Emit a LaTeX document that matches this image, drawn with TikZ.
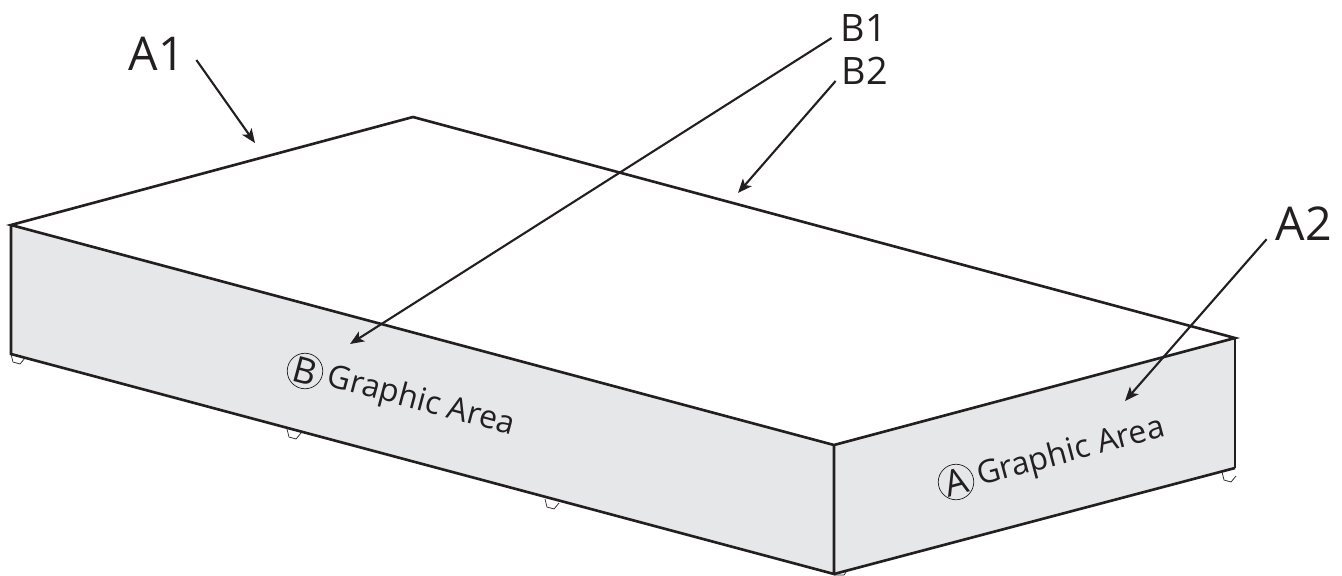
\documentclass[tikz,border=0pt]{standalone}
\usepackage{fontspec}
\setmainfont{Open Sans}
\usetikzlibrary{arrows.meta}
\definecolor{panelgray}{HTML}{E6E7E8}
\definecolor{inkblack}{HTML}{231F20}
\tikzset{
  edge/.style={inkblack, line width=1.5pt, line join=miter},
  thinedge/.style={inkblack, line width=0.7pt},
  foot/.style={inkblack, line width=0.4pt, fill=white},
  leader/.style={inkblack, line width=1.2pt, ->},
  biglabel/.style={inkblack, inner sep=0pt, font=\fontsize{26.5}{27}\selectfont},
  smalllabel/.style={inkblack, inner sep=0pt, font=\fontsize{21.5}{22}\selectfont},
  arealabel/.style={inkblack, inner sep=0pt, font=\fontsize{18.2}{19}\selectfont},
  letterring/.style={inkblack, draw, line width=0.4pt, circle, minimum size=20.2pt, inner sep=0pt},
  ringletter/.style={inkblack, inner sep=0pt, font=\fontsize{20.5}{21}\selectfont}
}
\begin{document}
\begin{tikzpicture}[x=0.02cm,y=-0.02cm,>={Stealth[length=8pt,width=6.5pt,inset=2pt]}]
    \useasboundingbox (0,0) rectangle (1342,575);
    % corners of the box
    \coordinate (TL) at (11,225); \coordinate (TB) at (413,117);
    \coordinate (TR) at (1235,338); \coordinate (TF) at (834,445);
    \coordinate (BL) at (11,354); \coordinate (BR) at (1235,468); \coordinate (BF) at (834,574);
    % little feet under the box
    \foreach \fx/\fy in {11/354,287/429,545/499,1222/472}
      \draw[foot] (\fx,\fy) -- ++(2,8) -- ++(7,2) -- ++(5,-6);
    \draw[foot] (BF) -- ++(2,1) -- ++(8,0) -- ++(2,-3);
    % faces
    \fill[panelgray] (TL) -- (TF) -- (BF) -- (BL) -- cycle;
    \fill[panelgray] (TF) -- (TR) -- (BR) -- (BF) -- cycle;
    \draw[thinedge] (TR) -- (BR);
    \draw[edge] (TF) -- (TL) -- (TB) -- (TR) -- (TF) -- (BF) -- (BL) -- (TL);
    \draw[edge] (BF) -- (BR);
    % texts on the faces
    \node[letterring] (ringB) at (305,371) {};
    \node[ringletter, rotate=-15] (letterB) at (ringB) {B};
    \node[arealabel, rotate=-15] (areaB) at (421,402) {Graphic Area};
    \node[letterring] (ringA) at (956,482) {};
    \node[ringletter, rotate=15] (letterA) at (ringA) {A};
    \node[arealabel, rotate=15] (areaA) at (1071,453) {Graphic Area};
    % labels
    \node[biglabel] (lblAone) at (157,54) {A1};
    \node[biglabel] (lblAtwo) at (1304,224) {A2};
    \node[smalllabel] (lblBone) at (864,28) {B1};
    \node[smalllabel] (lblBtwo) at (865,71) {B2};
    % arrow tips
    \coordinate (tipAone) at (255,143); \coordinate (tipAtwo) at (1125,401);
    \coordinate (tipBone) at (350,344); \coordinate (tipBtwo) at (738,193);
    \draw[leader] ([shift={(11,6)}]lblAone.east) -- (tipAone);
    \draw[leader] ([shift={(-9,-2)}]lblAtwo.south west) -- (tipAtwo);
    \draw[leader] ([shift={(-9,10)}]lblBone.west) -- (tipBone);
    \draw[leader] ([shift={(-6,10)}]lblBtwo.west) -- (tipBtwo);
  \end{tikzpicture}
\end{document}
